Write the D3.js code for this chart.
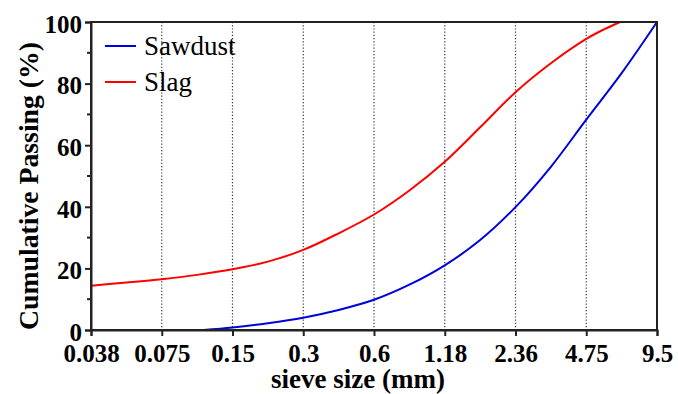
<!DOCTYPE html>
<html>
<head>
<meta charset="utf-8">
<script src="https://cdn.jsdelivr.net/npm/d3@7"></script>
<style>
  html, body { margin: 0; padding: 0; background: #fff; }
  svg { display: block; }
  text { font-family: "Liberation Serif", "Times New Roman", serif; }
</style>
</head>
<body>
<div id="chart"></div>
<script>
// sieve sizes, evenly spaced along the axis (index positions)
const sieveLabels = ["0.038", "0.075", "0.15", "0.3", "0.6", "1.18", "2.36", "4.75", "9.5"];

// [sieve position, cumulative passing %]
const sawdust = [
  [1.59, 0], [2, 0.8], [2.5, 2.2], [3, 4.0], [3.5, 6.5], [4, 9.8],
  [4.5, 14.7], [5, 21.0], [5.5, 29.2], [6, 39.9], [6.5, 53.0],
  [7, 68.3], [7.5, 83.4], [8, 100]
];
const slag = [
  [0, 14.4], [0.5, 15.4], [1, 16.5], [1.5, 17.9], [2, 19.7], [2.5, 22.2],
  [3, 26.0], [3.5, 31.4], [4, 37.5], [4.5, 45.3], [5, 54.6], [5.5, 65.8],
  [6, 77.2], [6.5, 86.6], [7, 94.5], [7.25, 97.6], [7.48, 100]
];
const seriesNames = ["Sawdust", "Slag"];
const seriesColors = ["#0000dd", "#ff0000"];
const yMajor = [0, 20, 40, 60, 80, 100];
const yMinor = [10, 30, 50, 70, 90];

const W = 678, H = 394;
const m = { left: 91, right: 21, top: 22, bottom: 64 };
const iw = W - m.left - m.right, ih = H - m.top - m.bottom;

const svg = d3.select("#chart").append("svg").attr("width", W).attr("height", H);
const g = svg.append("g").attr("transform", `translate(${m.left},${m.top})`);

const x = d3.scaleLinear().domain([0, sieveLabels.length - 1]).range([0, iw]);
const y = d3.scaleLinear().domain([0, 100]).range([ih, 0]);

// dotted verticals at the inner sieve sizes
g.selectAll(".grid").data(d3.range(1, sieveLabels.length - 1)).join("line")
  .attr("x1", d => x(d)).attr("x2", d => x(d))
  .attr("y1", 0).attr("y2", ih)
  .attr("stroke", "#333").attr("stroke-width", 1.2)
  .attr("stroke-dasharray", "1.2,2");

// curves
const line = d3.line().x(d => x(d[0])).y(d => y(d[1])).curve(d3.curveCatmullRom.alpha(0.5));
[sawdust, slag].forEach((s, i) => {
  g.append("path").datum(s).attr("d", line)
    .attr("fill", "none").attr("stroke", seriesColors[i]).attr("stroke-width", 2);
});

// frame
g.append("rect").attr("width", iw).attr("height", ih)
  .attr("fill", "none").attr("stroke", "#222").attr("stroke-width", 2);

// y axis
const yAxis = g.append("g")
  .call(d3.axisLeft(y).tickValues(yMajor).tickSize(6).tickPadding(3));
yAxis.selectAll(".tick line").attr("stroke", "#222").attr("stroke-width", 2);
yAxis.select(".domain").attr("stroke", "#222").attr("stroke-width", 2);
yAxis.selectAll("text").attr("font-size", 25).attr("font-weight", "bold")
  .attr("fill", "#000").attr("dy", "0.41em").attr("font-family", "Liberation Serif");
g.selectAll(".yminor").data(yMinor).join("line")
  .attr("x1", -4).attr("x2", 0).attr("y1", d => y(d)).attr("y2", d => y(d))
  .attr("stroke", "#222").attr("stroke-width", 2);

// x axis
const xAxis = g.append("g").attr("transform", `translate(0,${ih})`)
  .call(d3.axisBottom(x).tickValues(d3.range(sieveLabels.length))
    .tickFormat(i => sieveLabels[i]).tickSize(6).tickPadding(8));
xAxis.selectAll(".tick line").attr("stroke", "#222").attr("stroke-width", 2);
xAxis.select(".domain").attr("stroke", "#222").attr("stroke-width", 2);
xAxis.selectAll("text").attr("font-size", 25).attr("font-weight", "bold")
  .attr("fill", "#000").attr("font-family", "Liberation Serif");

// axis titles
svg.append("text").attr("x", 358).attr("y", 388)
  .attr("text-anchor", "middle").attr("font-size", 27).attr("font-weight", "bold")
  .text("sieve size (mm)");
svg.append("text").attr("transform", "translate(38,186) rotate(-90)")
  .attr("text-anchor", "middle").attr("font-size", 28).attr("font-weight", "bold")
  .attr("textLength", 288).attr("lengthAdjust", "spacingAndGlyphs")
  .text("Cumulative Passing (%)");

// legend
const leg = svg.append("g").attr("transform", "translate(105,46)");
seriesNames.forEach((n, i) => {
  const row = leg.append("g").attr("transform", `translate(0,${i * 36})`);
  row.append("line").attr("x1", 0).attr("x2", 31).attr("y1", 0).attr("y2", 0)
    .attr("stroke", seriesColors[i]).attr("stroke-width", 2);
  row.append("text").attr("x", 39).attr("y", 9).attr("font-size", 27).text(n);
});
</script>
</body>
</html>
